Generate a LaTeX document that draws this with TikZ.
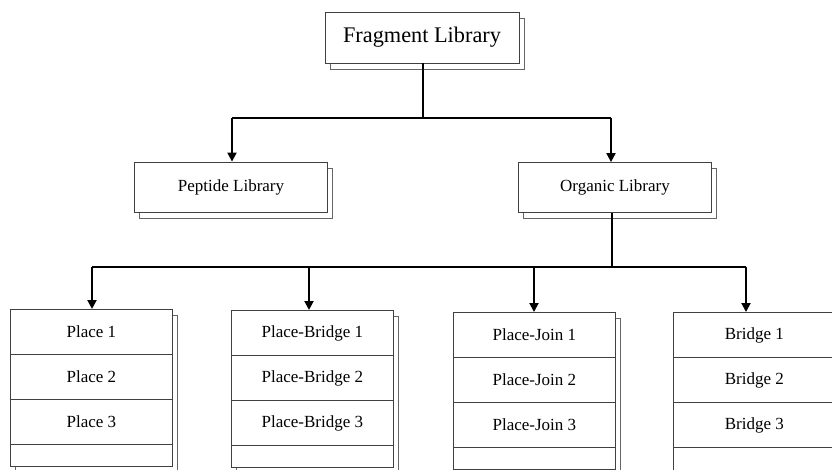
\documentclass[tikz,border=0pt]{standalone}
\usepackage{fontspec}
\setmainfont{Liberation Serif}
\usetikzlibrary{arrows.meta,shadows}
\begin{document}
\begin{tikzpicture}[x=1pt,y=-1pt,
  box/.style={draw=black!75, line width=0.8pt, fill=white, inner sep=0pt,
    copy shadow={shadow xshift=5pt, shadow yshift=-6pt, draw=black!60, fill=white}},
  bigbox/.style={box, minimum width=194pt, minimum height=51pt, font=\fontsize{22.3}{26}\selectfont},
  midbox/.style={box, minimum width=193pt, minimum height=50pt, font=\fontsize{17}{20}\selectfont},
  stack/.style={box, minimum width=162pt, minimum height=157pt,
    copy shadow={shadow xshift=4.5pt, shadow yshift=-6pt, draw=black!60, fill=white}},
  rowtext/.style={font=\fontsize{17}{20}\selectfont, inner sep=0pt},
  divider/.style={draw=black!75, line width=0.8pt},
  conn/.style={line width=2pt, line cap=butt},
  arr/.style={conn, -{Triangle[length=9pt,width=9pt]}}
]
\useasboundingbox (0,0) rectangle (832,469);
\clip (0,0) rectangle (832,469);

% top level
\node[bigbox] (frag) at (422,37.5) {Fragment Library};
\node[midbox] (pep) at (231,187) {Peptide Library};
\node[midbox] (org) at (615,187.5) {Organic Library};

% stacks
\node[stack, anchor=north west] (pl) at (10,309) {};
\node[stack, anchor=north west] (pb) at (231,310) {};
\node[stack, anchor=north west] (pj) at (453,312) {};
\node[stack, anchor=north west, minimum height=170pt] (br) at (673,312) {};

\foreach \n in {pl,pb,pj,br}{
  \draw[divider] ([yshift=-45pt]\n.north west) -- ([yshift=-45pt]\n.north east);
  \draw[divider] ([yshift=-90pt]\n.north west) -- ([yshift=-90pt]\n.north east);
  \draw[divider] ([yshift=-135pt]\n.north west) -- ([yshift=-135pt]\n.north east);
}

\node[rowtext] (pl1) at ([yshift=-23pt]pl.north) {Place 1};
\node[rowtext] (pl2) at ([yshift=-68pt]pl.north) {Place 2};
\node[rowtext] (pl3) at ([yshift=-113pt]pl.north) {Place 3};

\node[rowtext] (pb1) at ([yshift=-23pt]pb.north) {Place-Bridge 1};
\node[rowtext] (pb2) at ([yshift=-68pt]pb.north) {Place-Bridge 2};
\node[rowtext] (pb3) at ([yshift=-113pt]pb.north) {Place-Bridge 3};

\node[rowtext] (pj1) at ([yshift=-23pt]pj.north) {Place-Join 1};
\node[rowtext] (pj2) at ([yshift=-68pt]pj.north) {Place-Join 2};
\node[rowtext] (pj3) at ([yshift=-113pt]pj.north) {Place-Join 3};

\node[rowtext] (br1) at ([yshift=-23pt]br.north) {Bridge 1};
\node[rowtext] (br2) at ([yshift=-68pt]br.north) {Bridge 2};
\node[rowtext] (br3) at ([yshift=-113pt]br.north) {Bridge 3};

% connectors level 1
\coordinate (j1) at (423,118);
\coordinate (l1) at (232,118);
\coordinate (r1) at (611,118);
\draw[conn] (frag.south -| j1) -- (j1);
\draw[conn] (l1) -- (r1);
\draw[arr] (l1) -- (l1 |- pep.north);
\draw[arr] (r1) -- (r1 |- org.north);

% connectors level 2
\coordinate (j2) at (612,267);
\coordinate (a1) at (92,267);
\coordinate (a2) at (309,267);
\coordinate (a3) at (534,267);
\coordinate (a4) at (746,267);
\draw[conn] (org.south -| j2) -- (j2);
\draw[conn] (a1) -- (a4);
\draw[arr] (a1) -- (a1 |- pl.north);
\draw[arr] (a2) -- (a2 |- pb.north);
\draw[arr] (a3) -- (a3 |- pj.north);
\draw[arr] (a4) -- (a4 |- br.north);
\end{tikzpicture}
\end{document}
